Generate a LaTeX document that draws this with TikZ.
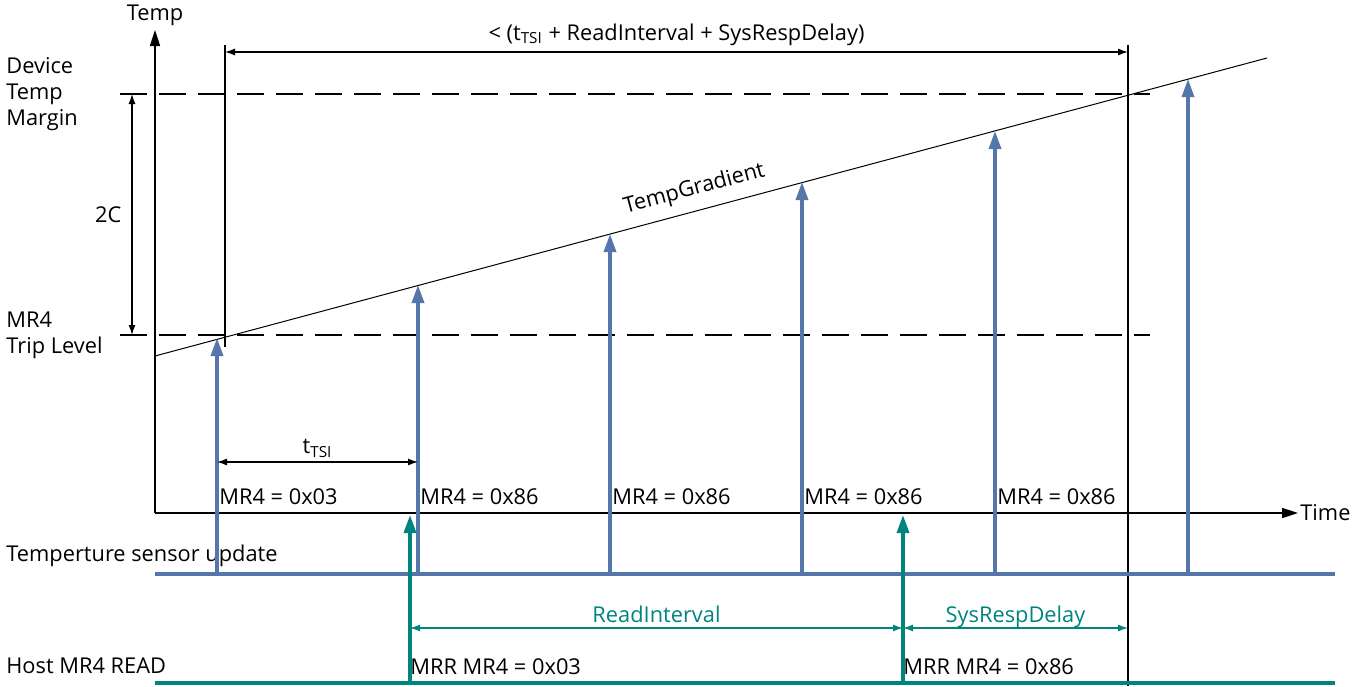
\documentclass[tikz,border=0pt]{standalone}
\usepackage{fontspec}
\setmainfont{Open Sans}
\usetikzlibrary{arrows.meta,positioning,calc}
\definecolor{sensorblue}{RGB}{84,118,171}
\definecolor{hostteal}{RGB}{0,133,126}

\begin{document}
\begin{tikzpicture}[
  x=0.5pt, y=-0.5pt,
  every node/.style={font=\fontsize{10.9}{13}\selectfont, inner sep=1pt},
  axisline/.style={-{Triangle[length=8pt,width=5pt]}, draw=black, line width=0.8pt},
  guide/.style={draw=black, line width=0.6pt},
  levelline/.style={draw=black, line width=0.6pt, dash pattern=on 13.5pt off 6pt},
  span/.style={{Latex[length=5pt,width=3.5pt]}-{Latex[length=5pt,width=3.5pt]}, draw=black, line width=0.6pt},
  tealspan/.style={span, draw=hostteal},
  spanlabel/.style={above=-1pt, text height=8pt, text depth=2.5pt},
  sensorpulse/.style={-{Triangle[length=9pt,width=6pt]}, draw=sensorblue, line width=1.7pt},
  hostpulse/.style={-{Triangle[length=9pt,width=6pt]}, draw=hostteal, line width=1.7pt},
  track/.style={line width=1.6pt},
  rowlabel/.style={anchor=west, align=left},
  readout/.style={anchor=west}
]
  \useasboundingbox (0,0) rectangle (1366,686);

  % axes
  \coordinate (origin) at (155,513);
  \node (templbl) at (155,15) {Temp};
  \node[anchor=west] (timelbl) at (1298,513) {Time};
  \draw[axisline] (origin) -- (155,30);
  \draw[axisline] (origin) -- (timelbl.west);

  % levels
  \node[rowlabel] (margin) at (4,94) {Device\\Temp\\Margin};
  \node[rowlabel] (trip) at (4,335) {MR4\\Trip Level};
  \coordinate (marginL) at (120,94);
  \coordinate (marginR) at (1150,94);
  \coordinate (tripL) at (120,335);
  \coordinate (tripR) at (1150,335);
  \draw[levelline] (marginL) -- (marginR);
  \draw[levelline] (tripL) -- (tripR);
  \draw[span] (132,335) -- node[left=4pt] (twoc) {2C} (132,94);

  % window markers
  \coordinate (winA) at (225,45);
  \coordinate (winB) at (1128,45);
  \draw[guide] (winA) -- (225,347);
  \draw[guide] (winB) -- (1128,686);
  \draw[span] (225,52) -- node[above=2pt] (window)
    {< (t\textsubscript{TSI} + ReadInterval + SysRespDelay)} (1128,52);

  % gradient
  \draw[guide, line width=0.5pt] (155,356) -- node[sloped, above=4pt, pos=0.49] (grad) {TempGradient} (1267,58);

  % sensor track
  \node[rowlabel] (sensorlbl) at (4,556) {Temperture sensor update};
  \coordinate (sensorL) at (155,574);
  \coordinate (sensorR) at (1335,574);
  \draw[track, draw=sensorblue] (sensorL) -- (sensorR);
  \foreach \x/\y in {217/338, 418/285, 610/234, 802/182, 995/131, 1188/79}
    \draw[sensorpulse] (\x,574) -- (\x,\y);
  \node[readout] (rd1) at (217,497) {MR4 = 0x03};
  \foreach \x [count=\i from 2] in {418, 610, 802, 995}
    \node[readout] (rd\i) at (\x,497) {MR4 = 0x86};
  \draw[span] (217,462) -- node[above=1pt] (tsi) {t\textsubscript{TSI}} (418,462);

  % host track
  \node[rowlabel] (hostlbl) at (4,666) {Host MR4 READ};
  \coordinate (hostL) at (155,683);
  \coordinate (hostR) at (1335,683);
  \draw[track, draw=hostteal] (hostL) -- (hostR);
  \draw[hostpulse] (410,683) -- (410,515);
  \draw[hostpulse] (903,683) -- (903,515);
  \node[readout] (mrr1) at (408,667) {MRR MR4 = 0x03};
  \node[readout] (mrr2) at (901,667) {MRR MR4 = 0x86};
  \draw[tealspan] (410,628) -- node[spanlabel, text=hostteal] (readint) {ReadInterval} (903,628);
  \draw[tealspan] (903,628) -- node[spanlabel, text=hostteal] (sysresp) {SysRespDelay} (1128,628);
\end{tikzpicture}
\end{document}
